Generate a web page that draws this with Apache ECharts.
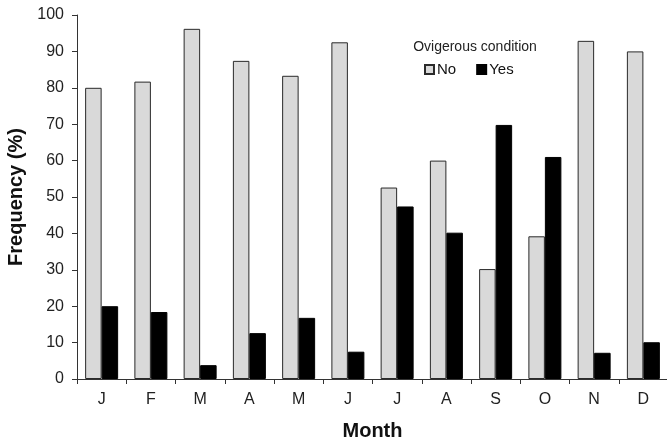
<!DOCTYPE html>
<html><head><meta charset="utf-8">
<script src="https://cdn.jsdelivr.net/npm/echarts@6/dist/echarts.min.js"></script>
<style>html,body{margin:0;padding:0;background:#fff;overflow:hidden}#c{width:667px;height:439px}</style>
</head><body><div id="c"></div>
<script>
const months = ['J','F','M','A','M','J','J','A','S','O','N','D'];
const noValues = [80, 81.7, 96.2, 87.4, 83.3, 92.5, 52.6, 60, 30.2, 39.2, 92.9, 90];
const yesValues = [20, 18.4, 3.8, 12.6, 16.8, 7.5, 47.4, 40.2, 69.8, 61, 7.2, 10.1];
const yTicks = [0,10,20,30,40,50,60,70,80,90,100];

const chart = echarts.init(document.getElementById('c'), null, {renderer:'canvas'});
const font = 'Liberation Sans, Arial, sans-serif';
chart.setOption({
  animation:false,
  title:{text:'Ovigerous condition', left:470, top:35, textAlign:'center',
    textStyle:{fontFamily:font, fontSize:14, fontWeight:'normal', color:'#222'}},
  legend:{top:57, left:419, itemWidth:9, itemHeight:9, itemGap:20, icon:'rect',
    textStyle:{fontFamily:font, fontSize:15, color:'#111', padding:[0,0,0,-2]},
    data:['No','Yes']},
  grid:{left:77, right:-1, top:15, bottom:60, outerBoundsMode:'none', containLabel:false},
  xAxis:{type:'category', data:months, name:'Month', nameLocation:'middle', nameGap:42,
    nameTextStyle:{fontFamily:font, fontSize:20, fontWeight:'bold', color:'#111'},
    axisLine:{lineStyle:{color:'#333', width:1}},
    axisTick:{show:true, length:5, lineStyle:{color:'#333'}},
    axisLabel:{fontFamily:font, fontSize:16, color:'#222', margin:13}},
  yAxis:{type:'value', min:0, max:100, interval:10, name:'Frequency (%)', nameLocation:'middle', nameGap:50,
    nameTextStyle:{fontFamily:font, fontSize:20, fontWeight:'bold', color:'#111'},
    axisLine:{show:true, lineStyle:{color:'#333', width:1}},
    axisTick:{show:true, length:5, lineStyle:{color:'#333'}},
    axisLabel:{fontFamily:font, fontSize:16, color:'#222', margin:13,
      formatter:v=>yTicks.includes(v)?String(v):''},
    splitLine:{show:false}},
  series:[
    {name:'No', type:'bar', data:noValues, barWidth:16.5, barGap:'0%',
      itemStyle:{color:'#d9d9d9', borderColor:'#2a2a2a', borderWidth:1}},
    {name:'Yes', type:'bar', data:yesValues, barWidth:16.5,
      itemStyle:{color:'#000', borderColor:'#000', borderWidth:1}}
  ]
});
</script></body></html>
